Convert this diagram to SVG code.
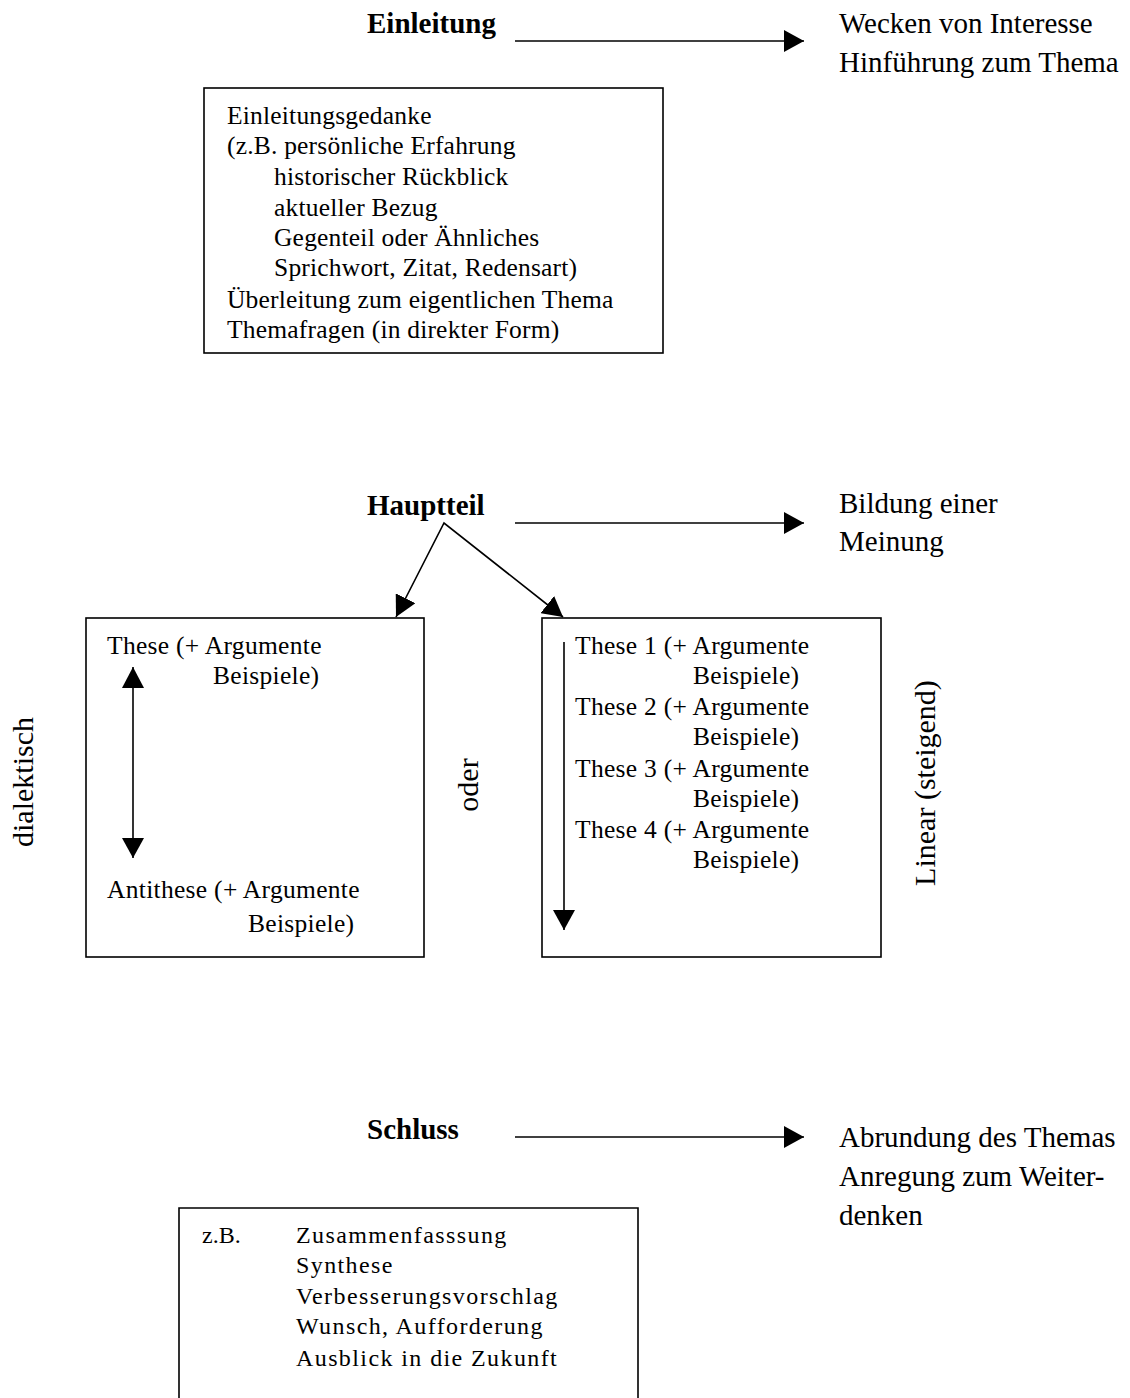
<svg xmlns="http://www.w3.org/2000/svg" width="1130" height="1398" viewBox="0 0 1130 1398">
<style>
text{font-family:"Liberation Serif","Times New Roman",serif;fill:#000}
.h{font-size:29px;font-weight:bold}
.lbl{font-size:29px}
.side{font-size:30px}
.b1{font-size:25.5px;letter-spacing:0.2px}
.b2{font-size:25.5px;letter-spacing:0.3px}
.b3{font-size:24px;letter-spacing:1.4px}
.box{fill:none;stroke:#000;stroke-width:1.6}
.ln{fill:none;stroke:#000;stroke-width:1.6}
</style>
<defs>
<marker id="ah" markerUnits="userSpaceOnUse" markerWidth="20" markerHeight="22" refX="20" refY="11" orient="auto" viewBox="0 0 20 22">
<path d="M0,0 L20,11 L0,22 z" fill="#000"/>
</marker>
<marker id="ahs" markerUnits="userSpaceOnUse" markerWidth="21" markerHeight="22" refX="0" refY="11" orient="auto" viewBox="0 0 21 22">
<path d="M21,0 L0,11 L21,22 z" fill="#000"/>
</marker>
</defs>

<g id="einleitung">
<text class="h" x="367" y="33">Einleitung</text>
</g>
<g id="einleitung-ziel">
<text class="lbl" x="839" y="33">Wecken von Interesse</text>
<text class="lbl" x="839" y="72">Hinführung zum Thema</text>
</g>
<g id="einleitung-box">
<rect class="box" x="204" y="88" width="459" height="265"/>
<text class="b1" x="227" y="124">Einleitungsgedanke</text>
<text class="b1" x="227" y="154">(z.B. persönliche Erfahrung</text>
<text class="b1" x="274" y="185">historischer Rückblick</text>
<text class="b1" x="274" y="216">aktueller Bezug</text>
<text class="b1" x="274" y="246">Gegenteil oder Ähnliches</text>
<text class="b1" x="274" y="276">Sprichwort, Zitat, Redensart)</text>
<text class="b1" x="227" y="308">Überleitung zum eigentlichen Thema</text>
<text class="b1" x="227" y="338">Themafragen (in direkter Form)</text>
</g>

<g id="hauptteil">
<text class="h" x="367" y="515">Hauptteil</text>
</g>
<g id="hauptteil-ziel">
<text class="lbl" x="839" y="513">Bildung einer</text>
<text class="lbl" x="839" y="551">Meinung</text>
</g>
<g id="dialektisch-box">
<rect class="box" x="86" y="618" width="338" height="339"/>
<text class="b2" x="107" y="654">These (+ Argumente</text>
<text class="b2" x="213" y="684">Beispiele)</text>
<text class="b2" x="107" y="898">Antithese (+ Argumente</text>
<text class="b2" x="248" y="932">Beispiele)</text>
</g>
<g id="linear-box">
<rect class="box" x="542" y="618" width="339" height="339"/>
<text class="b2" x="575" y="654">These 1 (+ Argumente</text>
<text class="b2" x="693" y="684">Beispiele)</text>
<text class="b2" x="575" y="715">These 2 (+ Argumente</text>
<text class="b2" x="693" y="745">Beispiele)</text>
<text class="b2" x="575" y="777">These 3 (+ Argumente</text>
<text class="b2" x="693" y="807">Beispiele)</text>
<text class="b2" x="575" y="838">These 4 (+ Argumente</text>
<text class="b2" x="693" y="868">Beispiele)</text>
</g>
<g id="side-labels">
<text class="side" text-anchor="middle" transform="translate(33,782) rotate(-90)">dialektisch</text>
<text class="side" text-anchor="middle" transform="translate(478,785) rotate(-90)">oder</text>
<text class="side" text-anchor="middle" transform="translate(935,783) rotate(-90)">Linear (steigend)</text>
</g>

<g id="schluss">
<text class="h" x="367" y="1139">Schluss</text>
</g>
<g id="schluss-ziel">
<text class="lbl" x="839" y="1147">Abrundung des Themas</text>
<text class="lbl" x="839" y="1186">Anregung zum Weiter-</text>
<text class="lbl" x="839" y="1225">denken</text>
</g>
<g id="schluss-box">
<path class="box" d="M179,1410 L179,1208 L638,1208 L638,1410"/>
<text style="font-size:24px" x="202" y="1243">z.B.</text>
<text class="b3" x="296" y="1243">Zusammenfasssung</text>
<text class="b3" x="296" y="1273">Synthese</text>
<text class="b3" x="296" y="1304">Verbesserungsvorschlag</text>
<text class="b3" x="296" y="1334">Wunsch, Aufforderung</text>
<text class="b3" x="296" y="1366">Ausblick in die Zukunft</text>
</g>

<g id="connectors">
<line class="ln" x1="515" y1="41" x2="804" y2="41" marker-end="url(#ah)"/>
<line class="ln" x1="515" y1="523" x2="804" y2="523" marker-end="url(#ah)"/>
<line class="ln" x1="515" y1="1137" x2="804" y2="1137" marker-end="url(#ah)"/>
<polyline class="ln" points="396,617 444,523 563,617" marker-start="url(#ahs)" marker-end="url(#ah)"/>
<line class="ln" x1="133" y1="667" x2="133" y2="858" marker-start="url(#ahs)" marker-end="url(#ah)"/>
<line class="ln" x1="564" y1="642" x2="564" y2="930" marker-end="url(#ah)"/>
</g>
</svg>
